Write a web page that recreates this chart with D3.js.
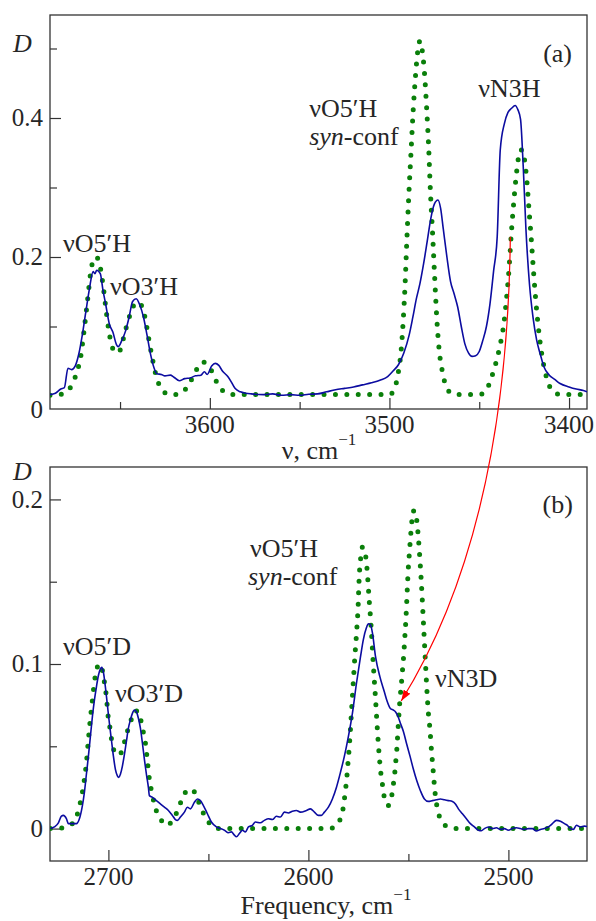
<!DOCTYPE html>
<html>
<head>
<meta charset="utf-8">
<script src="https://cdn.jsdelivr.net/npm/d3@7"></script>
</head>
<body style="margin:0; background:#fff">
<svg width="596" height="921"></svg>
<script>
// ---- panel (a): OH / NH stretching region ----
var aExpNu = [3689,3686,3683,3681,3679,3677,3675,3673,3671,3669,3667,3665,3664,3663,3661,3659.5,3658,3656,3654,3652,3651,3649,3647,3645,3643,3641,3639,3637,3635,3633,3631,3629.5,3627,3625,3622,3620,3617,3614,3611,3608,3605,3603,3601.5,3599,3597,3595,3593,3590,3588,3586,3583,3580,3577,3570,3565,3560,3555,3550,3545,3540,3535,3530,3525,3520,3515,3510,3505,3501,3498,3495,3492,3489,3487,3485,3483,3481,3479,3477,3475,3473,3471.5,3470,3468,3466,3464,3462,3460,3458,3456,3454,3452,3450,3448,3446,3444,3442,3440,3438.3,3436,3434,3432,3430,3428.5,3427,3425.5,3424,3422,3420,3418,3416,3414,3411,3408,3405,3400,3396,3392,3390];
var aExpD  = [0.002,0.004,0.010,0.012,0.040,0.038,0.043,0.060,0.088,0.122,0.155,0.179,0.176,0.181,0.176,0.152,0.132,0.104,0.092,0.074,0.071,0.080,0.093,0.113,0.136,0.140,0.131,0.114,0.088,0.060,0.040,0.032,0.031,0.029,0.030,0.027,0.022,0.025,0.026,0.029,0.030,0.035,0.031,0.043,0.047,0.044,0.036,0.028,0.020,0.011,0.006,0.004,0.003,0.002,0.003,0.001,0.002,0.001,0.0025,0.003,0.006,0.009,0.011,0.013,0.016,0.019,0.023,0.028,0.036,0.045,0.062,0.088,0.113,0.140,0.162,0.190,0.222,0.255,0.276,0.282,0.270,0.240,0.200,0.165,0.147,0.128,0.100,0.075,0.062,0.057,0.058,0.064,0.080,0.100,0.133,0.180,0.229,0.354,0.392,0.408,0.414,0.418,0.412,0.398,0.330,0.240,0.160,0.112,0.080,0.060,0.042,0.030,0.024,0.018,0.013,0.010,0.008,0.006];

var aCalcNu = [3689,3686,3682,3679,3676,3674,3672,3670,3668,3666.5,3665,3663.5,3662,3660.5,3659,3657.5,3656,3654,3652,3650,3648,3646,3644,3642,3640,3638,3636,3634,3632,3630,3628,3626,3622,3618,3615,3612,3609,3606,3604,3602,3599,3596,3593,3590,3585,3500,3497,3495,3493.5,3492.3,3491.3,3490.3,3489.2,3488,3486.8,3485.5,3484.2,3483,3481.8,3480.5,3479.3,3478.2,3477.2,3476,3474.8,3473.6,3472.3,3470.5,3469,3466,3462,3450,3447,3445,3443,3441,3439.5,3438,3436.5,3435,3433.5,3432.2,3431,3429.8,3428.6,3427.3,3426,3424.8,3423.5,3422.2,3421,3419.8,3418.6,3417.3,3416,3414.3,3412,3410,3407.7,3404,3390];
var aCalcD  = [0.001,0.001,0.003,0.008,0.020,0.035,0.055,0.095,0.140,0.175,0.195,0.200,0.196,0.178,0.150,0.118,0.090,0.068,0.062,0.066,0.084,0.104,0.120,0.132,0.135,0.130,0.112,0.082,0.054,0.030,0.015,0.007,0.002,0.002,0.006,0.015,0.030,0.044,0.049,0.047,0.036,0.019,0.008,0.003,0.002,0.002,0.012,0.035,0.065,0.110,0.160,0.225,0.290,0.350,0.410,0.460,0.497,0.511,0.498,0.465,0.415,0.360,0.295,0.235,0.170,0.110,0.066,0.035,0.018,0.005,0.002,0.002,0.006,0.014,0.028,0.045,0.060,0.078,0.100,0.135,0.180,0.232,0.272,0.307,0.335,0.354,0.354,0.340,0.310,0.265,0.225,0.180,0.140,0.104,0.075,0.047,0.022,0.010,0.004,0.002,0.002];

var aXTicks = [3600, 3500, 3400];
var aXMinor = [3650, 3550, 3450];
var aYTicks = [0.2, 0.4];
var aYMinor = [0.1, 0.3, 0.5];

// ---- panel (b): OD / ND stretching region ----
var bExpNu = [2729,2727,2725,2723.5,2722.5,2721,2720,2718,2716,2714.5,2713,2712,2711,2710,2709,2708,2707,2706,2705,2704,2703.3,2702.5,2701.5,2700.5,2699.5,2698.5,2697.5,2696.5,2695.5,2694.8,2694,2693,2692,2691,2690,2689,2688,2687,2686,2685,2684,2683,2682,2681,2680,2679.5,2678,2676,2674,2672,2670,2668,2666.5,2665.5,2664,2662,2660.5,2659,2657,2655.5,2654,2652.5,2650.5,2648.5,2646,2644,2642,2640,2638.5,2637,2636,2634.5,2633,2631.5,2630,2628,2626.5,2624,2622,2620,2618,2616,2614,2612,2610,2608,2606,2604,2601,2599,2597,2595,2593.5,2592,2590,2588,2586,2584,2582,2580,2578,2576,2574,2572.5,2571,2570,2569,2568,2566.5,2564.2,2562,2560.8,2559,2557.5,2556.5,2555.5,2554,2552.5,2551,2549.2,2547.5,2545.8,2544,2542,2540,2538,2536,2534,2532,2530,2528,2526.5,2525,2523,2521,2519,2517,2515,2513.5,2512,2510,2508,2506,2504,2502,2500,2498,2496,2494,2492,2490,2488,2486,2484,2482,2480,2478,2476,2474,2472,2470.5,2469,2467.5,2466,2464,2462,2460];
var bExpD  = [0.000,0.001,0.0035,0.0075,0.008,0.006,0.003,0.003,0.003,0.006,0.014,0.022,0.033,0.044,0.056,0.068,0.078,0.086,0.093,0.097,0.098,0.095,0.086,0.075,0.064,0.054,0.044,0.036,0.032,0.031,0.033,0.038,0.045,0.053,0.061,0.066,0.070,0.072,0.071,0.067,0.061,0.052,0.042,0.033,0.025,0.020,0.019,0.017,0.015,0.013,0.011,0.008,0.0055,0.005,0.007,0.010,0.013,0.012,0.016,0.018,0.017,0.014,0.009,0.004,0.001,0.000,-0.001,-0.0025,-0.002,-0.004,-0.005,-0.003,-0.001,-0.002,0.001,0.002,0.004,0.0035,0.005,0.006,0.0055,0.0075,0.007,0.010,0.0095,0.0105,0.011,0.010,0.011,0.012,0.010,0.008,0.008,0.010,0.013,0.018,0.025,0.034,0.044,0.056,0.070,0.088,0.104,0.115,0.122,0.1245,0.124,0.119,0.105,0.092,0.083,0.078,0.073,0.072,0.071,0.069,0.064,0.059,0.052,0.044,0.036,0.029,0.023,0.018,0.0165,0.017,0.0175,0.018,0.0175,0.017,0.0165,0.015,0.012,0.009,0.006,0.003,0.001,-0.001,-0.0013,0.000,0.001,0.000,0.0005,-0.0005,0.000,-0.001,0.000,0.0005,0.000,-0.0005,0.000,0.000,-0.0015,-0.0005,0.000,0.001,0.003,0.005,0.0045,0.003,0.002,0.000,-0.0005,0.002,0.001,0.0015,0.001];

var bCalcNu = [2729,2724,2721,2718,2716,2714.6,2713.3,2712,2711,2710,2709,2708,2707,2706,2704.5,2703,2702,2701,2700.2,2699.2,2698,2696.5,2694.5,2692.8,2691.2,2689.8,2688.3,2686.5,2685,2684,2682.8,2681.5,2680.5,2679.5,2678.3,2677,2675.5,2673.5,2671,2668.5,2666.5,2665,2663.5,2661.5,2659.5,2657.5,2655.5,2653.5,2651,2648.5,2645,2590,2587,2585.5,2584,2583,2582.2,2581.5,2580.8,2580.2,2579.6,2579,2578.5,2578,2577.4,2576.8,2576.2,2575.6,2575.1,2574.8,2574.4,2573.8,2573,2572,2571.2,2570.5,2570,2569.5,2569,2568.4,2567.8,2567.2,2566.6,2566,2565.5,2565,2564.5,2563.8,2563,2562.2,2561.3,2560.2,2559,2558.2,2557.5,2556.8,2556.3,2555.8,2555.4,2555,2554.6,2554.1,2553.5,2552.9,2552.3,2551.8,2551.3,2550.9,2550.5,2550.1,2549.6,2549,2548.4,2547.6,2546.6,2545.7,2545.1,2544.6,2544.1,2543.6,2543.1,2542.6,2542.1,2541.6,2541.1,2540.6,2540,2539.2,2538.5,2537.8,2537.2,2536.6,2535.8,2534.4,2532.5,2530,2526,2460];
var bCalcD  = [0.000,0.0003,0.001,0.003,0.007,0.013,0.020,0.030,0.040,0.054,0.067,0.078,0.089,0.096,0.100,0.096,0.089,0.080,0.069,0.061,0.051,0.046,0.0447,0.049,0.056,0.062,0.067,0.0715,0.071,0.067,0.060,0.052,0.041,0.030,0.022,0.015,0.009,0.005,0.002,0.004,0.008,0.012,0.017,0.022,0.024,0.023,0.018,0.012,0.006,0.002,0.000,0.000,0.001,0.003,0.006,0.010,0.016,0.023,0.031,0.040,0.049,0.060,0.070,0.080,0.092,0.104,0.114,0.125,0.136,0.147,0.157,0.165,0.171,0.170,0.164,0.155,0.146,0.137,0.129,0.118,0.105,0.093,0.082,0.070,0.060,0.051,0.043,0.034,0.027,0.020,0.016,0.014,0.016,0.021,0.027,0.034,0.041,0.048,0.056,0.064,0.072,0.080,0.088,0.097,0.106,0.116,0.126,0.136,0.147,0.157,0.166,0.176,0.185,0.193,0.193,0.186,0.178,0.170,0.161,0.151,0.140,0.128,0.116,0.104,0.092,0.081,0.070,0.060,0.048,0.038,0.029,0.021,0.014,0.007,0.003,0.001,0.000,0.000];

var bXTicks = [2700, 2600, 2500];
var bXMinor = [2650, 2550];
var bYTicks = [0, 0.1, 0.2];
var bYMinor = [0.05, 0.15];

var svg = d3.select("svg");
var left = 50, right = 587;
var fs = "25px", fsLab = "26px";

// all text sits directly on the svg, serif face set inline
function txt(size) {
    return svg.append("text")
        .attr("font-family", "Liberation Serif")
        .style("font", size + " 'Liberation Serif', Tinos, serif")
        .style("fill", "#262626");
}

// marker for the red arrow
svg.append("defs").append("marker")
   .attr("id", "head")
   .attr("viewBox", "0 0 10 7")
   .attr("refX", 10).attr("refY", 3.5)
   .attr("markerWidth", 11).attr("markerHeight", 8)
   .attr("markerUnits", "userSpaceOnUse")
   .attr("orient", "auto")
   .append("path").attr("d", "M0,0L10,3.5L0,7z").attr("fill", "#ff0000");

function panel(id, top, bottom, xDom, yDom, exp, calc, xt, xm, yt, ym) {
    var x = d3.scaleLinear().domain(xDom).range([left, right]),
        y = d3.scaleLinear().domain(yDom).range([bottom, top]);

    svg.append("clipPath").attr("id", "clip" + id)
       .append("rect").attr("x", left).attr("y", top)
       .attr("width", right - left).attr("height", bottom - top);

    var g = svg.append("g");

    // inward tick marks from d3 axes, labels drawn separately below
    g.append("g").attr("transform", "translate(0," + bottom + ")")
     .call(d3.axisBottom(x).tickValues(xt).tickSize(-11).tickFormat(""));
    g.append("g").attr("transform", "translate(0," + bottom + ")")
     .call(d3.axisBottom(x).tickValues(xm).tickSize(-7).tickFormat(""));
    g.append("g").attr("transform", "translate(" + left + ",0)")
     .call(d3.axisLeft(y).tickValues(yt).tickSize(-11).tickFormat(""));
    g.append("g").attr("transform", "translate(" + left + ",0)")
     .call(d3.axisLeft(y).tickValues(ym).tickSize(-7).tickFormat(""));

    g.selectAll(".domain").remove();
    g.selectAll(".tick line").attr("stroke", "#333").attr("stroke-width", 1.2);

    xt.forEach(function(v) {
        txt(fs).attr("x", x(v)).attr("y", bottom + 24)
            .attr("text-anchor", "middle").text(v);
    });
    yt.forEach(function(v) {
        txt(fs).attr("x", left - 7).attr("y", y(v)).attr("dy", "0.33em")
            .attr("text-anchor", "end").text(v);
    });

    g.append("rect")
     .attr("x", left).attr("y", top)
     .attr("width", right - left).attr("height", bottom - top)
     .attr("fill", "none").attr("stroke", "#333").attr("stroke-width", 1.3);

    var line = d3.line()
        .x(function(d) { return x(d[0]); })
        .y(function(d) { return y(d[1]); })
        .curve(d3.curveMonotoneX);

    var plot = svg.append("g").attr("clip-path", "url(#clip" + id + ")");

    plot.append("path").datum(calc)
        .attr("d", line)
        .attr("fill", "none")
        .attr("stroke", "#0a7f0a")
        .attr("stroke-width", 5)
        .attr("stroke-linecap", "round")
        .attr("stroke-dasharray", "0 11.4");

    plot.append("path").datum(exp)
        .attr("d", line)
        .attr("fill", "none")
        .attr("stroke", "#0c0ca0")
        .attr("stroke-width", 1.6)
        .attr("stroke-linejoin", "round");

    return { x: x, y: y };
}

var pa = panel("a", 15, 409, [3689, 3390], [-0.0187, 0.5482],
               d3.zip(aExpNu, aExpD), d3.zip(aCalcNu, aCalcD),
               aXTicks, aXMinor, aYTicks, aYMinor);
var pb = panel("b", 467, 861, [2729.2, 2460.7], [-0.0197, 0.2197],
               d3.zip(bExpNu, bExpD), d3.zip(bCalcNu, bCalcD),
               bXTicks, bXMinor, bYTicks, bYMinor);

// zero label of panel (a) sits in the corner
txt(fs).attr("x", left - 7).attr("y", pa.y(0) + 22)
    .attr("text-anchor", "end").text("0");

// y-axis symbol and axis titles
[52, 480].forEach(function(yb) {
    txt(fsLab).attr("x", 13).attr("y", yb)
        .style("font-style", "italic").text("D");
});

function title(cx, yb, main) {
    var t = txt(fsLab).attr("x", cx).attr("y", yb)
        .attr("text-anchor", "middle");
    t.append("tspan").text(main);
    t.append("tspan").attr("dy", -14).style("font-size", "17px").text("\u22121");
}
title(319, 459, "\u03bd, cm");
title(326, 914, "Frequency, cm");

// peak labels, placed in data units
function label(p, nu, d, parts) {
    var t = txt(fsLab).attr("x", p.x(nu)).attr("y", p.y(d));
    parts.forEach(function(s) {
        t.append("tspan").style("font-style", s[1] ? "italic" : "normal").text(s[0]);
    });
}
label(pa, 3681.8, 0.207, [["\u03bdO5\u2032H"]]);
label(pa, 3655.6, 0.145, [["\u03bdO3\u2032H"]]);
label(pa, 3544.7, 0.401, [["\u03bdO5\u2032H"]]);
label(pa, 3544.7, 0.361, [["syn", true], ["-conf"]]);
label(pa, 3450.6, 0.430, [["\u03bdN3H"]]);
label(pa, 3414.4, 0.481, [["(a)"]]);

label(pb, 2722.7, 0.1054, [["\u03bdO5\u2032D"]]);
label(pb, 2696.7, 0.0769, [["\u03bdO3\u2032D"]]);
label(pb, 2629.2, 0.165, [["\u03bdO5\u2032H"]]);
label(pb, 2630.2, 0.148, [["syn", true], ["-conf"]]);
label(pb, 2536.7, 0.086, [["\u03bdN3D"]]);
label(pb, 2482.9, 0.192, [["(b)"]]);

// red arrow: nu N3H (a) -> nu N3D (b)
var s = [pa.x(3432.7), pa.y(0.229)],
    e = [pb.x(2553.6), pb.y(0.0775)];
svg.append("path")
   .attr("d", "M" + s + "C" + [s[0] - 2, s[1] + 203] + " " + [e[0] + 69, e[1] - 111] + " " + e)
   .attr("fill", "none")
   .attr("stroke", "#ff0000")
   .attr("stroke-width", 1.2)
   .attr("marker-end", "url(#head)");
</script>
</body>
</html>
